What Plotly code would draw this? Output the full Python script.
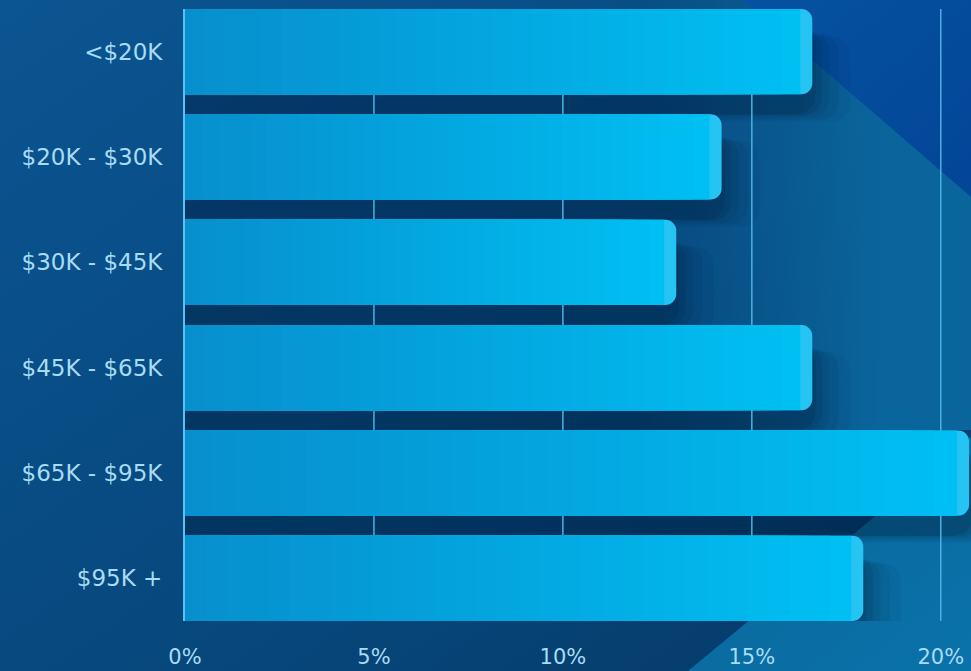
import base64
import plotly.graph_objects as go

# ---- data ----
categories = ["<$20K", "$20K - $30K", "$30K - $45K", "$45K - $65K", "$65K - $95K", "$95K +"]
shares = [16.6, 14.2, 13.0, 16.6, 20.75, 17.95]
x_tick_values = [0, 5, 10, 15, 20]
x_tick_labels = ["0%", "5%", "10%", "15%", "20%"]
grid_values = [5, 10, 15, 20]

# ---- styling ----
W, H = 971, 671
ML, MR, MT, MB = 185, 0, 9, 50
BAR_W = 0.808
YRANGE = [len(categories) - 1 + BAR_W / 2, -BAR_W / 2]
XRANGE = [0, 20.8]
TEXT_COLOR = "#a8dcf5"
FONT = "'DejaVu Sans', sans-serif"
positions = list(range(len(categories)))

fig = go.Figure()

# soft shadow layers (base subplot)
shadow_layers = [(1.0, 0.26, 0.05), (0.7, 0.24, 0.07), (0.45, 0.22, 0.09), (0.25, 0.20, 0.12), (0.08, 0.19, 0.15)]
for ext, dy, op in shadow_layers:
    fig.add_trace(go.Bar(
        y=positions, x=[v + ext for v in shares], orientation="h",
        width=BAR_W, offset=-BAR_W / 2 + dy,
        marker=dict(color=f"rgba(1,28,54,{op})", cornerradius=18, line=dict(width=0)),
        hoverinfo="skip", showlegend=False, xaxis="x", yaxis="y",
    ))

# grid lines between shadows and bars
for g in grid_values:
    fig.add_trace(go.Scatter(
        x=[g, g], y=YRANGE, mode="lines",
        line=dict(color="#4cb1e3", width=1.5),
        hoverinfo="skip", showlegend=False, xaxis="x", yaxis="y",
    ))

# main bars with a finely stepped horizontal gradient (overlay subplot)
def lerp(c1, c2, t):
    a = [int(c1[i:i + 2], 16) for i in (1, 3, 5)]
    b = [int(c2[i:i + 2], 16) for i in (1, 3, 5)]
    return "rgb(%d,%d,%d)" % tuple(round(a[i] + (b[i] - a[i]) * t) for i in range(3))

TIP = 0.32
fig.add_trace(go.Bar(
    y=positions, x=shares, orientation="h", width=BAR_W,
    marker=dict(color="#25c4f3", cornerradius=11, line=dict(width=0)),
    hoverinfo="skip", showlegend=False, xaxis="x", yaxis="y2",
))
N = 32
for k in range(N):
    frac = 1 - k / N
    fig.add_trace(go.Bar(
        y=positions, x=[(v - TIP) * frac for v in shares], orientation="h", width=BAR_W,
        marker=dict(color=lerp("#00bff2", "#078fce", k / (N - 1)), line=dict(width=0)),
        hoverinfo="skip", showlegend=False, xaxis="x", yaxis="y2",
    ))

# background artwork
svg = f"""<svg xmlns='http://www.w3.org/2000/svg' width='{W}' height='{H}' viewBox='0 0 {W} {H}' preserveAspectRatio='none'>
<defs>
<linearGradient id='g0' x1='0' y1='0' x2='1' y2='1'>
<stop offset='0' stop-color='#0b5592'/><stop offset='0.6' stop-color='#07477c'/><stop offset='1' stop-color='#053966'/>
</linearGradient>
<linearGradient id='gA' gradientUnits='userSpaceOnUse' x1='640' y1='0' x2='880' y2='0'>
<stop offset='0' stop-color='#0a6499' stop-opacity='0'/><stop offset='1' stop-color='#0a659c' stop-opacity='1'/>
</linearGradient>
<linearGradient id='gB' x1='0' y1='0' x2='1' y2='1'>
<stop offset='0' stop-color='#0a6698'/><stop offset='1' stop-color='#0a72aa'/>
</linearGradient>
<linearGradient id='g2' x1='0' y1='0' x2='1' y2='1'>
<stop offset='0' stop-color='#0552a0'/><stop offset='1' stop-color='#034598'/>
</linearGradient>
</defs>
<rect width='{W}' height='{H}' fill='url(#g0)'/>
<polygon points='640,0 971,0 971,430 640,430' fill='url(#gA)'/>
<polygon points='688,671 971,671 971,437' fill='url(#gB)'/>
<polygon points='743,0 971,0 971,197' fill='url(#g2)'/>
</svg>"""
src = "data:image/svg+xml;base64," + base64.b64encode(svg.encode()).decode()
pw, ph = W - ML - MR, H - MT - MB
fig.add_layout_image(dict(
    source=src, xref="paper", yref="paper",
    x=-ML / pw, y=1 + MT / ph, sizex=W / pw, sizey=H / ph,
    sizing="stretch", layer="below", xanchor="left", yanchor="top",
))

fig.update_layout(
    width=W, height=H,
    margin=dict(l=ML, r=MR, t=MT, b=MB, autoexpand=False),
    paper_bgcolor="#08497f", plot_bgcolor="rgba(0,0,0,0)",
    barmode="overlay", showlegend=False, hovermode=False,
    font=dict(family=FONT, color=TEXT_COLOR, size=22),
    xaxis=dict(range=XRANGE, tickvals=x_tick_values, ticktext=x_tick_labels,
               showgrid=False, zeroline=False, showline=False, ticks="",
               ticklabelstandoff=21, automargin=False, fixedrange=True,
               tickfont=dict(size=21, color=TEXT_COLOR, family=FONT)),
    yaxis=dict(range=YRANGE, tickvals=positions, ticktext=categories,
               showgrid=False, zeroline=False, showline=True,
               linecolor="#5cc0f2", linewidth=2, ticks="",
               ticklabelstandoff=16, automargin=False, fixedrange=True,
               tickfont=dict(size=23, color=TEXT_COLOR, family=FONT)),
    yaxis2=dict(range=YRANGE, overlaying="y", visible=False, fixedrange=True),
)

fig.write_html("out.html", config={"displayModeBar": False},
               post_script="document.body.style.margin='0';document.body.style.overflow='hidden';")
